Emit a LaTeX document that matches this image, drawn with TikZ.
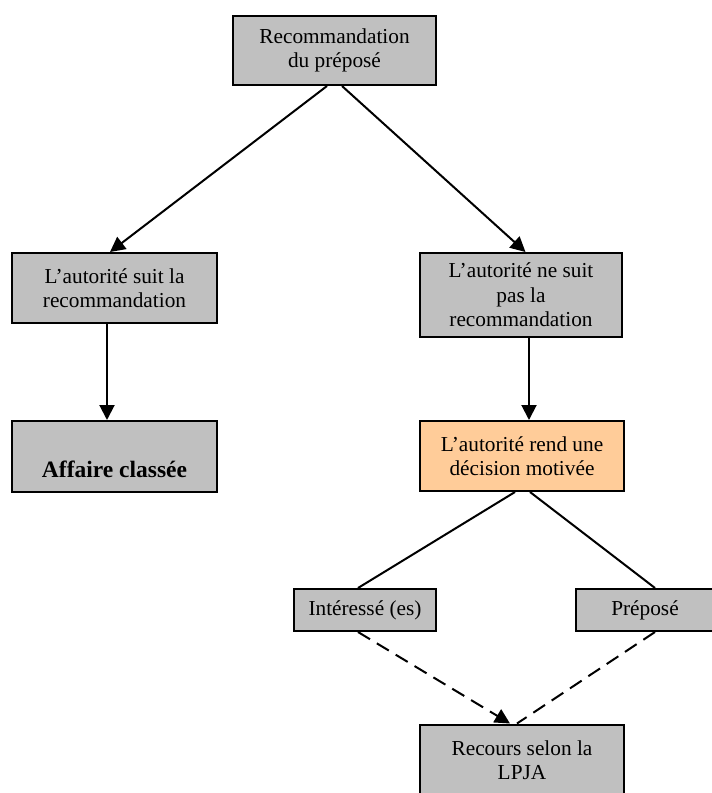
\documentclass[tikz,border=0pt]{standalone}
\usepackage{fontspec}
\setmainfont{Liberation Serif}
\usetikzlibrary{arrows.meta}
\definecolor{boxgray}{HTML}{C0C0C0}
\definecolor{boxorange}{HTML}{FFCC99}
\tikzset{
  box/.style={draw=black, line width=2pt, fill=boxgray, inner sep=0pt, align=center,
    font=\fontsize{21.3}{24.5}\selectfont},
  tip/.style={-{Triangle[length=15pt,width=15pt]}},
  arr/.style={line width=2pt, tip},
  plainline/.style={line width=2pt},
  dashline/.style={line width=2pt, dash pattern=on 14pt off 8pt}
}
\begin{document}
\begin{tikzpicture}[x=1pt,y=-1pt]
\useasboundingbox (0,0) rectangle (712,793);
\node[box, minimum width=203pt, minimum height=69pt] (top) at (334.5,50.5) {Recommandation\\du préposé};
\node[box, minimum width=205pt, minimum height=70pt] (L1) at (114.5,288) {L’autorité suit la\\recommandation};
\node[box, minimum width=202pt, minimum height=84pt] (R1) at (521,295) {L’autorité ne suit\\pas la\\recommandation};
\node[box, minimum width=205pt, minimum height=71pt] (aff) at (114.5,456.5) {\strut\\{\fontsize{23.5}{24.5}\selectfont\bfseries Affaire classée}};
\node[box, fill=boxorange, minimum width=204pt, minimum height=70pt] (dec) at (522,456) {L’autorité rend une\\décision motivée};
\node[box, minimum width=142pt, minimum height=42pt] (int) at (365,610) {Intéressé (es)};
\node[box, minimum width=138pt, minimum height=42pt] (prep) at (645,610) {Préposé};
\node[box, minimum width=204pt, minimum height=71pt] (rec) at (522,760) {Recours selon la\\LPJA};
\draw[arr] ([xshift=-7.5pt]top.south) -- ([xshift=-4.5pt]L1.north);
\draw[arr] ([xshift=7.5pt]top.south) -- ([xshift=4.5pt]R1.north);
\draw[arr] ([xshift=-7.5pt]L1.south) -- ([xshift=-7.5pt]aff.north);
\draw[arr] ([xshift=8pt]R1.south) -- ([xshift=7pt]dec.north);
\draw[plainline] ([xshift=-7pt]dec.south) -- ([xshift=-7pt]int.north);
\draw[plainline] ([xshift=8pt]dec.south) -- ([xshift=10pt]prep.north);
\draw[dashline, tip] ([xshift=-7pt]int.south) -- ([xshift=-12pt]rec.north);
\draw[dashline] ([xshift=10pt]prep.south) -- ([xshift=-5pt]rec.north);
\end{tikzpicture}
\end{document}
